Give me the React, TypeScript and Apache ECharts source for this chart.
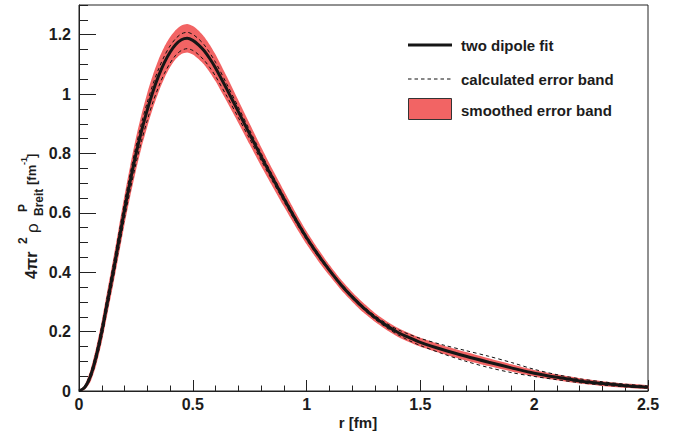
import React, { useEffect, useRef } from "react";
import * as echarts from "echarts";

// r [fm]
const rValues = [0, 0.025, 0.05, 0.075, 0.1, 0.125, 0.15, 0.175, 0.2, 0.225, 0.25, 0.275, 0.3, 0.325, 0.35, 0.375, 0.4, 0.425, 0.45, 0.475, 0.5, 0.525, 0.55, 0.575, 0.6, 0.65, 0.7, 0.75, 0.8, 0.85, 0.9, 0.95, 1.0, 1.05, 1.1, 1.15, 1.2, 1.25, 1.3, 1.35, 1.4, 1.45, 1.5, 1.6, 1.7, 1.8, 1.9, 2.0, 2.1, 2.2, 2.3, 2.4, 2.5];
// two dipole fit
const fitValues = [0, 0.012, 0.05, 0.115, 0.2, 0.3, 0.4, 0.505, 0.61, 0.707, 0.797, 0.877, 0.947, 1.009, 1.062, 1.106, 1.141, 1.167, 1.183, 1.188, 1.181, 1.166, 1.146, 1.119, 1.088, 1.016, 0.941, 0.865, 0.79, 0.718, 0.648, 0.58, 0.516, 0.459, 0.407, 0.359, 0.317, 0.28, 0.248, 0.221, 0.198, 0.18, 0.164, 0.139, 0.117, 0.097, 0.078, 0.06, 0.046, 0.034, 0.025, 0.018, 0.013];
// smoothed error band (upper / lower edge)
const bandUpper = [0.001, 0.02, 0.07, 0.145, 0.236, 0.34, 0.443, 0.551, 0.659, 0.759, 0.852, 0.933, 1.004, 1.065, 1.117, 1.159, 1.192, 1.216, 1.231, 1.236, 1.229, 1.214, 1.193, 1.165, 1.133, 1.058, 0.979, 0.9, 0.822, 0.747, 0.675, 0.604, 0.538, 0.479, 0.425, 0.376, 0.333, 0.296, 0.263, 0.236, 0.213, 0.195, 0.179, 0.153, 0.131, 0.11, 0.09, 0.071, 0.056, 0.043, 0.033, 0.025, 0.019];
const bandLower = [0, 0.004, 0.03, 0.085, 0.164, 0.26, 0.357, 0.459, 0.561, 0.655, 0.742, 0.821, 0.89, 0.953, 1.007, 1.053, 1.09, 1.118, 1.135, 1.14, 1.133, 1.118, 1.099, 1.073, 1.043, 0.974, 0.903, 0.83, 0.758, 0.689, 0.621, 0.556, 0.494, 0.439, 0.389, 0.342, 0.301, 0.264, 0.233, 0.206, 0.183, 0.165, 0.149, 0.125, 0.103, 0.084, 0.066, 0.049, 0.036, 0.025, 0.017, 0.011, 0.007];
// calculated error band (upper / lower dashed curve)
const calcUpper = [0, 0.016, 0.06, 0.13, 0.22, 0.322, 0.424, 0.53, 0.636, 0.733, 0.823, 0.903, 0.972, 1.033, 1.085, 1.128, 1.162, 1.187, 1.203, 1.208, 1.201, 1.186, 1.166, 1.138, 1.107, 1.033, 0.956, 0.878, 0.801, 0.727, 0.656, 0.587, 0.522, 0.465, 0.412, 0.364, 0.322, 0.285, 0.254, 0.228, 0.207, 0.191, 0.177, 0.155, 0.136, 0.117, 0.096, 0.073, 0.055, 0.041, 0.031, 0.023, 0.017];
const calcLower = [0, 0.008, 0.04, 0.1, 0.18, 0.278, 0.376, 0.479, 0.582, 0.677, 0.765, 0.843, 0.912, 0.973, 1.025, 1.069, 1.104, 1.131, 1.147, 1.153, 1.147, 1.133, 1.114, 1.089, 1.06, 0.992, 0.921, 0.849, 0.777, 0.707, 0.639, 0.572, 0.509, 0.453, 0.402, 0.354, 0.312, 0.275, 0.242, 0.214, 0.19, 0.17, 0.153, 0.125, 0.1, 0.079, 0.062, 0.049, 0.038, 0.028, 0.02, 0.014, 0.01];

const xTicks = { min: 0, max: 2.5, interval: 0.5 };
const yTicks = { min: 0, max: 1.3, interval: 0.2, minorInterval: 0.05 };

const legendNames = ["two dipole fit", "calculated error band", "smoothed error band"];

const FONT = "'Liberation Sans', Arial, Helvetica, sans-serif";
const INK = "#1c1c1c";
const RED = "#F26464";

export default function App() {
  const ref = useRef<HTMLDivElement>(null);

  useEffect(() => {
    if (!ref.current) return;
    const chart = echarts.init(ref.current, undefined, { renderer: "svg" });

    const pairs = (ys: number[]) => rValues.map((r, i) => [r, ys[i]]);

    const labelStyle = {
      fontFamily: FONT,
      fontSize: 16,
      fontWeight: "bold" as const,
      color: INK,
    };
    const axisLineStyle = { color: "#222", width: 1 };

    const smooth = 0.3;

    const titleText = (text: string, x: number, y: number, fontSize: number, bold = true) => ({
      type: "text",
      x,
      y,
      style: {
        text,
        fontFamily: FONT,
        fontSize,
        fontWeight: bold ? "bold" : "normal",
        fill: INK,
        align: "left",
        verticalAlign: "middle",
      },
    });

    const legendText = (text: string, y: number) => ({
      type: "text",
      x: 461,
      y,
      style: { text, fontFamily: FONT, fontSize: 15, fontWeight: "bold", fill: INK, align: "left", verticalAlign: "middle" },
    });

    const option: any = {
      animation: false,
      backgroundColor: "#ffffff",
      grid: {
        left: 79,
        right: 36,
        top: 5,
        bottom: 45,
        show: true,
        borderColor: "#222",
        borderWidth: 1,
        backgroundColor: "transparent",
      },
      xAxis: {
        type: "value",
        min: xTicks.min,
        max: xTicks.max,
        interval: xTicks.interval,
        axisLine: { show: true, onZero: false, lineStyle: axisLineStyle },
        axisTick: { show: true, inside: true, length: 11, lineStyle: axisLineStyle },
        minorTick: { show: true, splitNumber: 5, length: 5.5, lineStyle: axisLineStyle },
        splitLine: { show: false },
        minorSplitLine: { show: false },
        axisLabel: { ...labelStyle, margin: 5 },
      },
      yAxis: [
        {
          type: "value",
          min: yTicks.min,
          max: yTicks.max,
          interval: yTicks.interval,
          position: "left",
          axisLine: { show: true, onZero: false, lineStyle: axisLineStyle },
          axisTick: { show: true, inside: true, length: 17, lineStyle: axisLineStyle },
          splitLine: { show: false },
          axisLabel: { ...labelStyle, margin: 8, showMaxLabel: false },
        },
        {
          type: "value",
          min: yTicks.min,
          max: yTicks.max,
          interval: yTicks.minorInterval,
          position: "left",
          offset: 0,
          axisLine: { show: false },
          axisTick: { show: true, inside: true, length: 9, lineStyle: axisLineStyle },
          splitLine: { show: false },
          axisLabel: { show: false },
        },
      ],
      series: [
        {
          name: legendNames[2],
          type: "custom",
          coordinateSystem: "cartesian2d",
          data: [[0, 0]],
          encode: { x: 0, y: 1 },
          silent: true,
          z: 1,
          renderItem: (_params: any, api: any) => {
            const top = rValues.map((r, i) => api.coord([r, bandUpper[i]]));
            const bottom = rValues.map((r, i) => api.coord([r, bandLower[i]])).reverse();
            return {
              type: "polygon",
              shape: { points: top.concat(bottom), smooth: 0.2 },
              style: { fill: RED, stroke: "none" },
            };
          },
        },
        {
          name: legendNames[1] + " upper",
          type: "line",
          data: pairs(calcUpper),
          smooth,
          symbol: "none",
          lineStyle: { color: "#111", width: 1, type: [3.5, 3] },
          z: 2,
        },
        {
          name: legendNames[1] + " lower",
          type: "line",
          data: pairs(calcLower),
          smooth,
          symbol: "none",
          lineStyle: { color: "#111", width: 1, type: [3.5, 3] },
          z: 2,
        },
        {
          name: legendNames[0],
          type: "line",
          data: pairs(fitValues),
          smooth,
          symbol: "none",
          lineStyle: { color: "#161616", width: 3 },
          z: 3,
        },
      ],
      graphic: [
        // legend
        { type: "line", shape: { x1: 408, y1: 45, x2: 452, y2: 45 }, style: { stroke: "#161616", lineWidth: 3 } },
        { type: "line", shape: { x1: 408, y1: 79, x2: 452, y2: 79 }, style: { stroke: "#111", lineWidth: 1, lineDash: [3.5, 3] } },
        { type: "rect", shape: { x: 408.5, y: 98.5, width: 43, height: 21 }, style: { fill: RED, stroke: "#333", lineWidth: 1 } },
        legendText(legendNames[0], 45),
        legendText(legendNames[1], 79),
        legendText(legendNames[2], 110),
        // x axis title
        { type: "text", x: 358, y: 422, style: { text: "r [fm]", fontFamily: FONT, fontSize: 15, fontWeight: "bold", fill: INK, align: "center", verticalAlign: "middle" } },
        // y axis title
        {
          type: "group",
          x: 31,
          y: 279,
          rotation: Math.PI / 2,
          children: [
            titleText("4πr", 0, 0, 16),
            titleText("2", 35, -8, 12),
            titleText("ρ", 46, 1, 17, false),
            titleText("P", 67, -8, 12),
            titleText("Breit", 63, 8, 12),
            titleText("[fm", 94, 0, 13),
            titleText("-1", 114, -7, 9),
            titleText("]", 121, 0, 13),
          ],
        },
      ],
    };

    chart.setOption(option);
    return () => chart.dispose();
  }, []);

  return (
    <div
      ref={ref}
      style={{ position: "absolute", left: 0, top: 0, width: 684, height: 436 }}
    />
  );
}
